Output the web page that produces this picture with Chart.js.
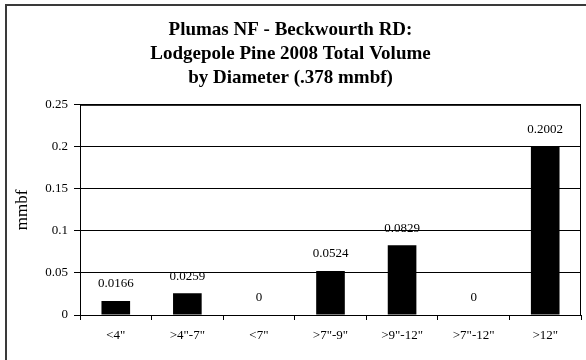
<!DOCTYPE html>
<html>
<head>
<meta charset="utf-8">
<script src="https://cdn.jsdelivr.net/npm/chart.js@4"></script>
<style>
  html, body { margin: 0; padding: 0; background: #fff; }
  #wrap { width: 586px; height: 360px; position: relative; }
</style>
</head>
<body>
<div id="wrap"><canvas id="chart"></canvas></div>
<script>
// --- Chart data ---
const diameterClasses = ['<4"', '>4"-7"', '<7"', '>7"-9"', '>9"-12"', '>7"-12"', '>12"'];
const volumeMmbf = [0.0166, 0.0259, 0, 0.0524, 0.0829, 0, 0.2002];
const titleLines = ['Plumas NF - Beckwourth RD:', 'Lodgepole Pine 2008 Total Volume', 'by Diameter (.378 mmbf)'];
const yAxisLabel = 'mmbf';

const serif = "'Liberation Serif', 'Times New Roman', serif";

// outer chart frame (only top and left edges show in the picture)
const framePlugin = {
    id: 'frame',
    beforeDraw(chart) {
        const ctx = chart.ctx;
        ctx.save();
        ctx.fillStyle = '#fff';
        ctx.fillRect(0, 0, chart.width, chart.height);
        ctx.strokeStyle = '#3a3a3a';
        ctx.lineWidth = 2;
        ctx.beginPath();
        ctx.moveTo(6, chart.height);
        ctx.lineTo(6, 5);
        ctx.lineTo(chart.width, 5);
        ctx.stroke();
        ctx.restore();
    }
};

// box round the plot area
const plotBoxPlugin = {
    id: 'plotBox',
    afterDraw(chart) {
        const a = chart.chartArea;
        const ctx = chart.ctx;
        ctx.save();
        ctx.strokeStyle = '#000';
        ctx.lineWidth = 1;
        ctx.strokeRect(a.left + 0.5, a.top + 0.5, a.right - a.left - 1, a.bottom - a.top);
        ctx.restore();
    }
};

// value labels above each bar
const valueLabelPlugin = {
    id: 'valueLabels',
    afterDatasetsDraw(chart) {
        const ctx = chart.ctx;
        const meta = chart.getDatasetMeta(0);
        ctx.save();
        ctx.font = '13px ' + serif;
        ctx.fillStyle = '#000';
        ctx.textAlign = 'center';
        ctx.textBaseline = 'middle';
        meta.data.forEach((bar, i) => {
            ctx.fillText(String(volumeMmbf[i]), bar.x, bar.y - 17);
        });
        ctx.restore();
    }
};

const ctx = document.getElementById('chart').getContext('2d');
new Chart(ctx, {
    type: 'bar',
    data: {
        labels: diameterClasses,
        datasets: [{
            data: volumeMmbf,
            backgroundColor: '#000',
            borderWidth: 0,
            barPercentage: 0.4,
            categoryPercentage: 1.0
        }]
    },
    options: {
        responsive: true,
        maintainAspectRatio: false,
        animation: false,
        layout: { padding: { left: 0, right: 5, top: 0, bottom: 0 } },
        plugins: {
            legend: { display: false },
            tooltip: { enabled: false },
            title: {
                display: true,
                text: titleLines,
                color: '#000',
                font: { family: serif, size: 19, weight: 'bold', lineHeight: 1.26 },
                padding: { top: 18, bottom: 15 }
            }
        },
        scales: {
            x: {
                grid: { display: true, drawOnChartArea: false, color: '#000', tickLength: 5, offset: true },
                border: { display: true, color: '#000' },
                ticks: { color: '#000', font: { family: serif, size: 13 }, padding: 8, maxRotation: 0, autoSkip: false },
                afterFit(scale) { scale.height = 45; }
            },
            y: {
                min: 0,
                max: 0.25,
                ticks: {
                    stepSize: 0.05,
                    color: '#000',
                    font: { family: serif, size: 13 },
                    padding: 6,
                    callback: v => String(parseFloat(v.toFixed(2)))
                },
                grid: { color: '#000', lineWidth: 1, tickLength: 6 },
                border: { display: true, color: '#000' },
                title: {
                    display: true,
                    text: yAxisLabel,
                    color: '#000',
                    font: { family: serif, size: 17 },
                    padding: { top: 12, bottom: 0 }
                },
                afterFit(scale) { scale.width = 80; }
            }
        }
    },
    plugins: [framePlugin, plotBoxPlugin, valueLabelPlugin]
});
</script>
</body>
</html>
